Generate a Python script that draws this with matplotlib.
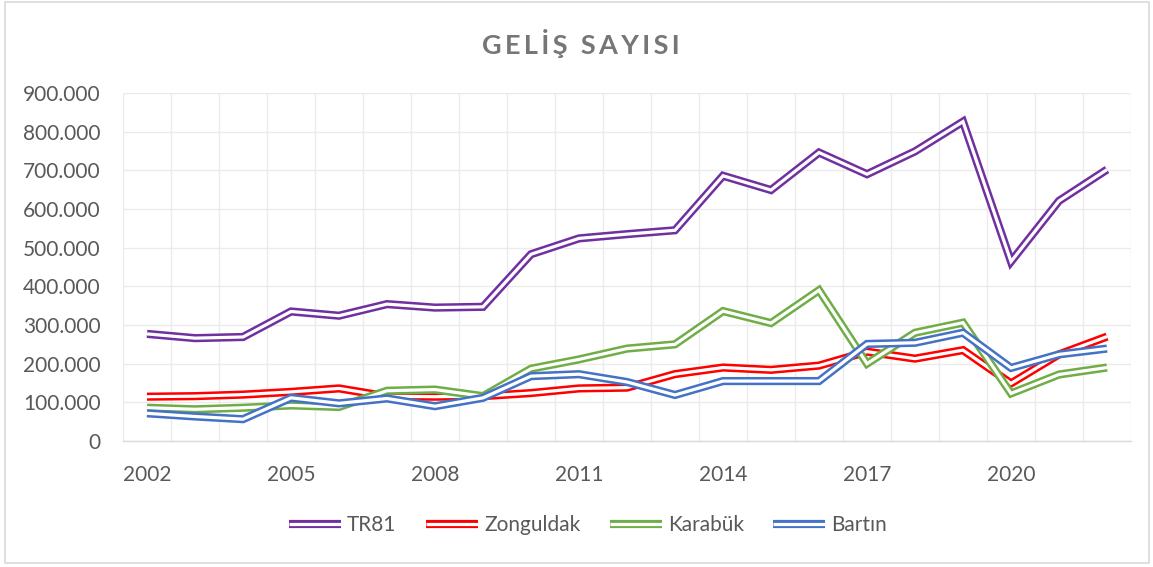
import matplotlib
matplotlib.use("Agg")
import matplotlib.pyplot as plt
import matplotlib.patheffects as pe
from matplotlib.patches import Rectangle
from matplotlib.ticker import FixedLocator, FuncFormatter

# Yearly arrivals (geliş sayısı)
years = list(range(2002, 2023))
tr81 = [277000, 266000, 269000, 335000, 324000, 354000, 345000, 347000, 483000, 524000, 535000,
        545000, 686000, 649000, 746000, 690000, 749000, 826000, 464000, 621000, 702000]
zonguldak = [114600, 116000, 120000, 127000, 136000, 115500, 114600, 116000, 124000, 136000, 138000,
             173000, 190000, 184000, 195000, 231000, 213000, 235000, 149000, 224000, 270000]
karabuk = [86000, 82000, 86000, 92000, 88000, 130000, 133000, 116000, 187000, 211000, 239000,
           250000, 336000, 305000, 390000, 200000, 280000, 306000, 123000, 172000, 190000]
bartin = [71600, 63400, 56400, 111600, 97400, 110000, 90000, 111600, 167700, 172800, 152600,
          119000, 155000, 155000, 155000, 251000, 254000, 280000, 189000, 224000, 239000]

series_names = ["TR81", "Zonguldak", "Karabük", "Bartın"]
series_values = [tr81, zonguldak, karabuk, bartin]
series_colors = ["#7030A0", "#FF0000", "#70AD47", "#4472C4"]
tick_years = [2002, 2005, 2008, 2011, 2014, 2017, 2020]
title_text = "GELİŞ SAYISI"

plt.rcParams["font.family"] = ["Lato", "DejaVu Sans"]

W, H = 1153, 567
fig = plt.figure(figsize=(W / 100, H / 100), dpi=100)
fig.patch.set_facecolor("white")

ax = fig.add_axes([123 / W, 1 - 441 / H, (1131 - 123) / W, (441 - 93) / H])

x = list(range(len(years)))
outer_w = 5.9
gap_w = 2.3
for name, vals, col in zip(series_names, series_values, series_colors):
    ax.plot(x, vals, color="white", lw=gap_w, label=name,
            solid_joinstyle="miter", solid_capstyle="butt",
            path_effects=[pe.Stroke(linewidth=outer_w, foreground=col,
                                    joinstyle="miter", capstyle="butt"),
                          pe.Normal()])

ax.set_xlim(-0.5, len(years) - 0.5)
ax.set_ylim(0, 900000)

ax.xaxis.set_major_locator(FixedLocator([years.index(y) for y in tick_years]))
ax.xaxis.set_major_formatter(FuncFormatter(lambda v, p: str(years[int(round(v))])))
ax.xaxis.set_minor_locator(FixedLocator([i - 0.5 for i in range(len(years) + 1)]))
ax.yaxis.set_major_locator(FixedLocator(list(range(0, 900001, 100000))))
ax.yaxis.set_major_formatter(FuncFormatter(lambda v, p: f"{v:,.0f}".replace(",", ".")))

ax.grid(which="minor", axis="x", color="#ebebeb", lw=1.0)
ax.grid(which="major", axis="y", color="#ebebeb", lw=1.0)
ax.set_axisbelow(True)
for s in ["top", "right", "left"]:
    ax.spines[s].set_visible(False)
ax.spines["bottom"].set_color("#d9d9d9")
ax.spines["bottom"].set_linewidth(1.0)

ax.tick_params(axis="both", which="both", length=0, labelcolor="#595959", labelsize=15)
ax.tick_params(axis="y", pad=16)
ax.tick_params(axis="x", pad=17)

fig.text(581 / W, 1 - 44 / H, "\u2009".join(title_text), ha="center", va="center",
         fontsize=19.5, fontweight="bold", color="#767676")

leg = fig.legend(loc="center", bbox_to_anchor=(588 / W, 1 - 525 / H), ncol=4,
                 frameon=False, fontsize=15, handlelength=2.5, handletextpad=0.3,
                 columnspacing=1.4)
for t in leg.get_texts():
    t.set_color("#595959")

fig.patches.append(Rectangle((4.5 / W, 1 - 562.5 / H), (1148.5 - 4.5) / W, (562.5 - 1.5) / H,
                             transform=fig.transFigure, fill=False, edgecolor="#d9d9d9", lw=1.2))

fig.savefig("out.png", dpi=100, facecolor="white")
